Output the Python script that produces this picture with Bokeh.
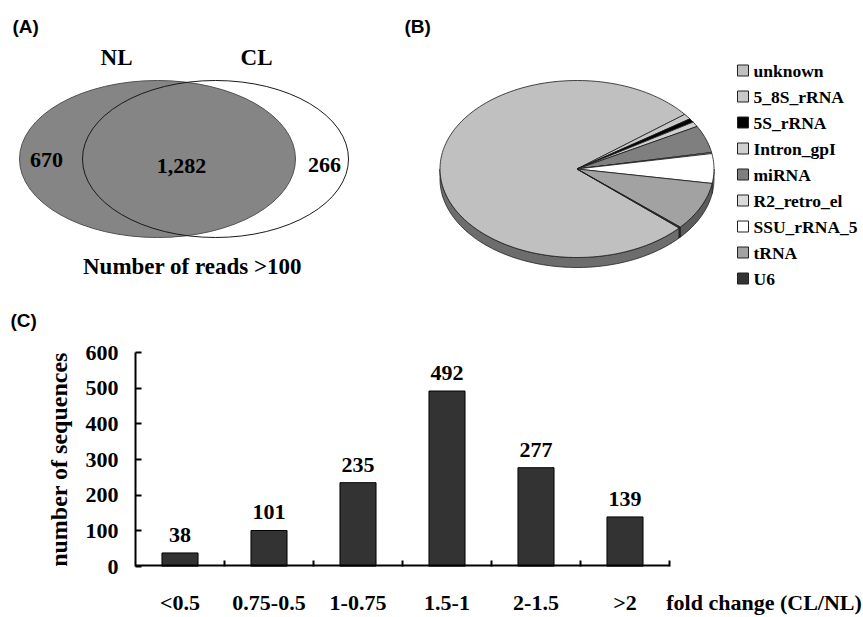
import math
from bokeh.plotting import figure
from bokeh.layouts import column, row
from bokeh.models import Range1d, FixedTicker
from bokeh.core.properties import value
from bokeh.embed import file_html
from bokeh.resources import INLINE

# ---------------- data ----------------
venn_sets = ["NL", "CL"]
venn_counts = [670, 1282, 266]          # NL only, both, CL only
venn_caption = "Number of reads >100"

pie_categories = ["unknown", "5_8S_rRNA", "5S_rRNA", "Intron_gpI", "miRNA",
                  "R2_retro_el", "SSU_rRNA_5", "tRNA", "U6"]
pie_shares = [77.8, 1.0, 0.7, 0.9, 5.0, 0.2, 5.4, 8.8, 0.2]
pie_colors = ["#c0c0c0", "#c8c8c8", "#000000", "#cfcfcf", "#7f7f7f",
              "#dadada", "#ffffff", "#a2a2a2", "#333333"]

bar_categories = ["<0.5", "0.75-0.5", "1-0.75", "1.5-1", "2-1.5", ">2"]
bar_counts = [38, 101, 235, 492, 277, 139]
y_ticks = [0, 100, 200, 300, 400, 500, 600]
x_title = "fold change (CL/NL)"
y_title = "number of sequences"

SERIF = value("Liberation Serif")
SANS = value("Liberation Sans")

TOTAL_W, TOTAL_H = 863, 617
TOP_H = 335
A_W = 380
B_W = TOTAL_W - A_W


def blank(width, height, x0, x1, y0, y1):
    p = figure(width=width, height=height, x_range=Range1d(x0, x1),
               y_range=Range1d(y1, y0), output_backend="svg",
               toolbar_location=None, x_axis_type=None, y_axis_type=None,
               min_border=0)
    p.outline_line_color = None
    return p


# ---------------- (A) Venn ----------------
pA = blank(A_W, TOP_H, 0, A_W, 0, TOP_H)
pA.ellipse(x=[157], y=[158.5], width=[276], height=[157],
           fill_color="#858585", line_color="#505050", line_width=1)
pA.ellipse(x=[215], y=[158.5], width=[266], height=[157],
           fill_color=None, line_color="#1a1a1a", line_width=1)
pA.text(x=[116, 256], y=[57, 57], text=venn_sets, text_font=SERIF,
        text_font_size="23px", text_font_style="bold", text_align="center",
        text_baseline="middle", text_color="black")
pA.text(x=[46, 181, 324], y=[159, 165, 164],
        text=[f"{v:,}" for v in venn_counts], text_font=SERIF,
        text_font_size="22px", text_font_style="bold", text_align="center",
        text_baseline="middle", text_color="black")
pA.text(x=[192], y=[266], text=[venn_caption], text_font=SERIF,
        text_font_size="23px", text_font_style="bold", text_align="center",
        text_baseline="middle", text_color="black")
pA.text(x=[12, 10], y=[26, 320], text=["(A)", "(C)"], text_font=SANS,
        text_font_size="19px", text_font_style="bold", text_align="left",
        text_baseline="middle", text_color="black")

# ---------------- (B) 3D pie ----------------
pB = blank(B_W, TOP_H, A_W, TOTAL_W, 0, TOP_H)
cx, cy, rx, ry, depth = 576.5, 168.5, 137, 88.5, 10
start_deg = -41.8   # slices run clockwise from here


def pt(t_deg, dy=0.0):
    t = math.radians(t_deg)
    return cx + rx * math.cos(t), cy - ry * math.sin(t) + dy


def arc(a_hi, a_lo, dy=0.0):
    n = max(2, int(abs(a_hi - a_lo) / 2) + 2)
    xs, ys = [], []
    for k in range(n):
        t = a_hi + (a_lo - a_hi) * k / (n - 1)
        x, y = pt(t, dy)
        xs.append(x)
        ys.append(y)
    return xs, ys


def darker(hexc, f=0.57):
    r, g, b = (int(hexc[i:i + 2], 16) for i in (1, 3, 5))
    return "#%02x%02x%02x" % (int(r * f), int(g * f), int(b * f))


total = sum(pie_shares)
spans = []
a = start_deg
for s in pie_shares:
    span = s / total * 360.0
    spans.append((a, a - span))
    a -= span

side_xs, side_ys, side_cols = [], [], []
top_xs, top_ys = [], []
for (a_hi, a_lo), col in zip(spans, pie_colors):
    for k in range(-2, 2):
        lo = max(a_lo, -180 + 360 * k)
        hi = min(a_hi, 0 + 360 * k)
        if hi - lo > 1e-6:
            x1, y1 = arc(hi, lo)
            x2, y2 = arc(hi, lo, depth)
            side_xs.append(x1 + x2[::-1])
            side_ys.append(y1 + y2[::-1])
            side_cols.append(darker(col))
    ax, ay = arc(a_hi, a_lo)
    top_xs.append([cx] + ax)
    top_ys.append([cy] + ay)

pB.patches(xs=side_xs, ys=side_ys, fill_color=side_cols, line_color="#222222",
           line_width=0.8)
pB.patches(xs=top_xs, ys=top_ys, fill_color=pie_colors, line_color="#1a1a1a",
           line_width=0.8)

leg_y = [70 + 26 * i for i in range(len(pie_categories))]
pB.rect(x=[742.5] * len(pie_categories), y=leg_y, width=11, height=11,
        fill_color=pie_colors, line_color="#222222", line_width=1)
pB.text(x=[753] * len(pie_categories), y=leg_y, text=pie_categories,
        text_font=SERIF, text_font_size="17.5px", text_font_style="bold",
        text_align="left", text_baseline="middle", text_color="black")
pB.text(x=[404], y=[26], text=["(B)"], text_font=SANS, text_font_size="19px",
        text_font_style="bold", text_align="left", text_baseline="middle",
        text_color="black")

# ---------------- (C) bar chart ----------------
n = len(bar_categories)
BOT_H = TOTAL_H - TOP_H
FRAME_LEFT = 135
CAT_PX = 89                    # pixel width of one category slot
units_per_cat = 2
x_end = (TOTAL_W - FRAME_LEFT) / CAT_PX * units_per_cat
pC = figure(width=TOTAL_W, height=BOT_H, x_range=Range1d(0, x_end),
            y_range=Range1d(0, 600), output_backend="svg",
            toolbar_location=None, min_border_left=FRAME_LEFT,
            min_border_right=0, min_border_top=17, min_border_bottom=51)
pC.outline_line_color = None
pC.xgrid.visible = False
pC.ygrid.visible = False

centers = [units_per_cat * i + 1 for i in range(n)]
pC.vbar(x=centers, top=bar_counts, bottom=0, width=0.81,
        fill_color="#333333", line_color="#000000", line_width=1)
pC.text(x=centers, y=bar_counts, text=[str(v) for v in bar_counts],
        y_offset=-18, text_font=SERIF, text_font_size="22px",
        text_font_style="bold", text_align="center",
        text_baseline="alphabetic", text_color="black")
# x axis line only over the categories
pC.segment(x0=[0], y0=[0], x1=[units_per_cat * n], y1=[0],
           line_color="black", line_width=4)

title_pos = units_per_cat * n + 2.125   # axis title sits right of the axis end
xa = pC.xaxis[0]
xa.ticker = FixedTicker(ticks=centers + [title_pos],
                        minor_ticks=[units_per_cat * (i + 1) for i in range(n)])
overrides = {c: lab for c, lab in zip(centers, bar_categories)}
overrides[title_pos] = x_title
xa.major_label_overrides = overrides
xa.major_tick_line_color = None
xa.minor_tick_in = 6
xa.minor_tick_out = 0
xa.minor_tick_line_width = 2
xa.minor_tick_line_color = "black"
xa.axis_line_color = None
xa.major_label_standoff = 17
xa.major_label_text_font = "Liberation Serif"
xa.major_label_text_font_size = "22px"
xa.major_label_text_font_style = "bold"
xa.major_label_text_color = "black"

ya = pC.yaxis[0]
ya.ticker = FixedTicker(ticks=y_ticks, minor_ticks=[])
ya.major_tick_in = 6
ya.major_tick_out = 0
ya.major_tick_line_width = 2
ya.major_tick_line_color = "black"
ya.minor_tick_line_color = None
ya.axis_line_width = 2
ya.axis_line_color = "black"
ya.major_label_standoff = 17
ya.major_label_text_font = "Liberation Serif"
ya.major_label_text_font_size = "22px"
ya.major_label_text_font_style = "bold"
ya.major_label_text_color = "black"
ya.axis_label = y_title
ya.axis_label_standoff = 11
ya.axis_label_text_font = "Liberation Serif"
ya.axis_label_text_font_size = "24px"
ya.axis_label_text_font_style = "bold"
ya.axis_label_text_color = "black"

layout = column(row(pA, pB), pC)
open("out.html", "w").write(file_html(layout, INLINE))
